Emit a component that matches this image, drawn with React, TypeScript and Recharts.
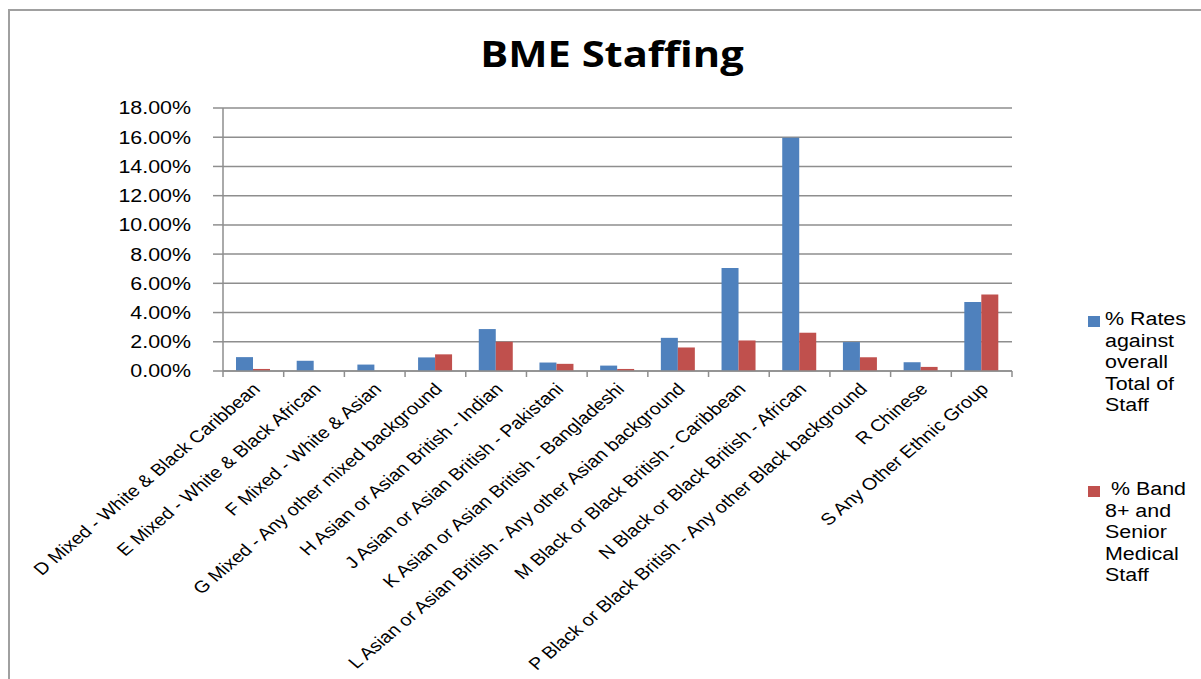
import React from "react";
import { BarChart, Bar, XAxis, YAxis, CartesianGrid } from "recharts";

const categories = [
  "D Mixed - White & Black Caribbean",
  "E Mixed - White & Black African",
  "F Mixed - White & Asian",
  "G Mixed - Any other mixed background",
  "H Asian or Asian British - Indian",
  "J Asian or Asian British - Pakistani",
  "K Asian or Asian British - Bangladeshi",
  "L Asian or Asian British - Any other Asian background",
  "M Black or Black British - Caribbean",
  "N Black or Black British - African",
  "P Black or Black British - Any other Black background",
  "R Chinese",
  "S Any Other Ethnic Group",
];

const ratesTotal = [0.95, 0.7, 0.44, 0.93, 2.87, 0.58, 0.37, 2.27, 7.05, 15.96, 1.98, 0.6, 4.73];
const bandSenior = [0.14, 0, 0, 1.14, 2.0, 0.49, 0.14, 1.61, 2.09, 2.62, 0.94, 0.28, 5.23];

const yTicks = [0, 2, 4, 6, 8, 10, 12, 14, 16, 18];

const seriesNames = [
  "% Rates against overall Total of Staff",
  " % Band 8+ and Senior Medical Staff",
];
const seriesColors = ["#4F81BD", "#C0504D"];

const data = categories.map((c, i) => ({
  name: c,
  a: ratesTotal[i],
  b: bandSenior[i],
}));

const W = 1201;
const H = 679;
const PLOT_LEFT = 223;
const PLOT_RIGHT = 1012;
const PLOT_TOP = 108;
const PLOT_BOTTOM = 371;
const BAND = (PLOT_RIGHT - PLOT_LEFT) / categories.length;
const SX = 1.19;

const AXIS_COLOR = "#8e8e8e";
const FONT = "'Liberation Sans', Arial, sans-serif";

const XTick = (props: any) => {
  const { x, y, payload, index } = props;
  const half = BAND / 2;
  const isLast = index === categories.length - 1;
  const ax = x + 3;
  const ay = y + 7;
  return (
    <g>
      <line x1={x - half} y1={y - 8} x2={x - half} y2={y - 2} stroke={AXIS_COLOR} strokeWidth={1.5} />
      {isLast && (
        <line x1={x + half} y1={y - 8} x2={x + half} y2={y - 2} stroke={AXIS_COLOR} strokeWidth={1.5} />
      )}
      <text
        transform={`translate(${ax} ${ay}) scale(1.18 1) rotate(-45)`}
        x={0}
        y={0}
        textAnchor="end"
        fontFamily={FONT}
        fontSize={16.8}
        fill="#000"
        dy="0.35em"
      >
        {payload.value}
      </text>
    </g>
  );
};

const YTick = (props: any) => {
  const { x, y, payload } = props;
  return (
    <text
      transform={`translate(${x} ${y}) scale(${SX} 1)`}
      x={0}
      y={0}
      textAnchor="end"
      fontFamily={FONT}
      fontSize={18}
      fill="#000"
      dy="0.36em"
    >
      {`${Number(payload.value).toFixed(2)}%`}
    </text>
  );
};

const LegendBox = () => (
  <div
    style={{
      position: "absolute",
      left: 1088,
      top: 309,
      fontFamily: FONT,
      fontSize: 18,
      lineHeight: "21.5px",
      color: "#000",
    }}
  >
    {seriesNames.map((n, i) => (
      <div key={i} style={{ position: "relative", marginBottom: i === 0 ? 63 : 0, height: i === 0 ? 107 : "auto" }}>
        <span
          style={{
            position: "absolute",
            left: 0,
            top: 7,
            width: 12,
            height: 11,
            background: seriesColors[i],
          }}
        />
        <div
          style={{
            position: "absolute",
            left: 17,
            top: 0,
            width: 80,
            whiteSpace: "pre-wrap",
            transform: `scaleX(${SX})`,
            transformOrigin: "0 0",
          }}
        >
          {n}
        </div>
      </div>
    ))}
  </div>
);

export default function App() {
  return (
    <div style={{ position: "absolute", left: 0, top: 0, width: W, height: H, overflow: "hidden", background: "#fff" }}>
      <div
        style={{
          position: "absolute",
          left: 8,
          top: 9,
          width: W + 100,
          height: H + 100,
          border: "2px solid #a0a0a0",
          boxSizing: "border-box",
        }}
      />
      <div
        style={{
          position: "absolute",
          left: 612,
          top: 29,
          transform: `translateX(-50%) scaleX(${SX})`,
          whiteSpace: "nowrap",
          fontFamily: "'Open Sans', sans-serif",
          fontWeight: 700,
          fontSize: 35,
          lineHeight: "50px",
        }}
      >
        BME Staffing
      </div>
      <div style={{ position: "absolute", left: 0, top: 0 }}>
        <BarChart
          width={W}
          height={H}
          data={data}
          margin={{ top: PLOT_TOP, left: PLOT_LEFT - 100, right: W - PLOT_RIGHT, bottom: 8 }}
          barGap={0}
          barSize={17}
        >
          <CartesianGrid vertical={false} stroke={AXIS_COLOR} strokeWidth={1.5} />
          <XAxis
            dataKey="name"
            interval={0}
            height={H - PLOT_BOTTOM - 8}
            tick={<XTick />}
            tickLine={false}
            axisLine={{ stroke: AXIS_COLOR, strokeWidth: 1.5 }}
          />
          <YAxis
            width={100}
            domain={[0, 18]}
            ticks={yTicks}
            tick={<YTick />}
            tickLine={{ stroke: AXIS_COLOR, strokeWidth: 1.5 }}
            tickSize={10}
            tickMargin={22}
            axisLine={{ stroke: AXIS_COLOR, strokeWidth: 1.5 }}
          />
          <Bar dataKey="a" name={seriesNames[0]} fill={seriesColors[0]} isAnimationActive={false} />
          <Bar dataKey="b" name={seriesNames[1]} fill={seriesColors[1]} isAnimationActive={false} />
        </BarChart>
      </div>
      <LegendBox />
    </div>
  );
}
